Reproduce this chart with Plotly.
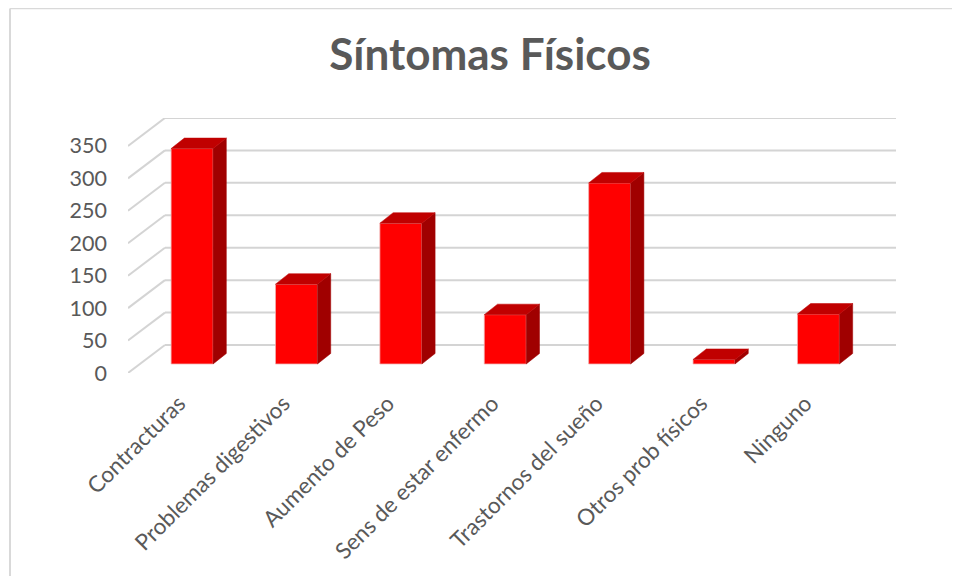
"""Sintomas fisicos: Excel style 3D column chart drawn on flat axes."""

import plotly.graph_objects as go

categories = [
    "Contracturas",
    "Problemas digestivos",
    "Aumento de Peso",
    "Sens de estar enfermo",
    "Trastornos del sueño",
    "Otros prob físicos",
    "Ninguno",
]
values = [332, 123, 217, 76, 279, 7, 77]
y_ticks = [0, 50, 100, 150, 200, 250, 300, 350]

# plot area in axis units
X_MIN, X_MAX = -0.614, 6.743
Y_MAX = 393
# floor depth, and where the bars stand on the floor
FLOOR_DX, FLOOR_DY = 0.354, 43.1
BASE = 13.9
BAR_W = 0.402
BAR_DX, BAR_DY = 0.127, 16.2
# rotated labels end a little left of the column centre
LABEL_SHIFT = 0.125

FONT = "Lato, Carlito, 'Open Sans', sans-serif"
GREY = "#595959"
GRID = dict(color="#d4d4d4", width=2)

# back wall and floor gridlines, kept under the columns
shapes = []
for t in y_ticks:
    shapes.append(dict(type="line", layer="below", line=GRID,
                       x0=X_MIN, x1=X_MIN + FLOOR_DX, y0=t, y1=t + FLOOR_DY))
    shapes.append(dict(type="line", layer="below", line=GRID,
                       x0=X_MIN + FLOOR_DX, x1=X_MAX, y0=t + FLOOR_DY, y1=t + FLOOR_DY))

# chart frame, top and left only
shapes.append(dict(type="line", xref="paper", yref="paper", layer="below",
                   x0=-118 / 768, x1=1.083, y0=1 + 109.5 / 255, y1=1 + 109.5 / 255,
                   line=dict(color="#d9d9d9", width=1.5)))
shapes.append(dict(type="line", xref="paper", yref="paper", layer="below",
                   x0=-118 / 768, x1=-118 / 768, y0=1 + 109.5 / 255, y1=-203 / 255,
                   line=dict(color="#d9d9d9", width=2)))

fig = go.Figure()

fig.add_trace(go.Bar(
    x=list(range(len(categories))),
    y=values,
    base=BASE,
    width=BAR_W,
    marker=dict(color="#ff0000", line=dict(color="#f0b0b0", width=0.75)),
    showlegend=False,
))

# side and top faces of each column
for i, v in enumerate(values):
    right = i + BAR_W / 2
    left = i - BAR_W / 2
    top = BASE + v
    fig.add_trace(go.Scatter(
        x=[right, right + BAR_DX, right + BAR_DX, right, right],
        y=[BASE, BASE + BAR_DY, top + BAR_DY, top, BASE],
        mode="lines", fill="toself", fillcolor="#a00000",
        line=dict(color="#a00000", width=0.5),
        hoverinfo="skip", showlegend=False,
    ))
    fig.add_trace(go.Scatter(
        x=[left, left + BAR_DX, right + BAR_DX, right, left],
        y=[top, top + BAR_DY, top + BAR_DY, top, top],
        mode="lines", fill="toself", fillcolor="#c00000",
        line=dict(color="#c00000", width=0.5),
        hoverinfo="skip", showlegend=False,
    ))

# the page body has an 8px margin, so the figure is 8px smaller each way
fig.update_layout(
    width=952,
    height=568,
    margin=dict(l=120, r=64, t=110, b=203, autoexpand=False),
    paper_bgcolor="white",
    plot_bgcolor="white",
    font=dict(family=FONT, color=GREY),
    title=dict(
        text="<b>Síntomas Físicos</b>",
        font=dict(family=FONT, size=44, color=GREY),
        x=482 / 952, xanchor="center",
        y=1 - 47 / 568, yanchor="middle",
    ),
    xaxis=dict(
        range=[X_MIN, X_MAX],
        tickmode="array",
        tickvals=[i - LABEL_SHIFT for i in range(len(categories))],
        ticktext=categories,
        tickangle=-45,
        tickfont=dict(size=22.5),
        ticklabelstandoff=12,
        showgrid=False, zeroline=False, showline=False, ticks="",
    ),
    yaxis=dict(
        range=[0, Y_MAX],
        tickmode="array",
        tickvals=y_ticks,
        tickfont=dict(size=21.5),
        ticklabelstandoff=20,
        showgrid=False, zeroline=False, showline=False, ticks="",
    ),
    shapes=shapes,
)

fig.write_html("out.html")
